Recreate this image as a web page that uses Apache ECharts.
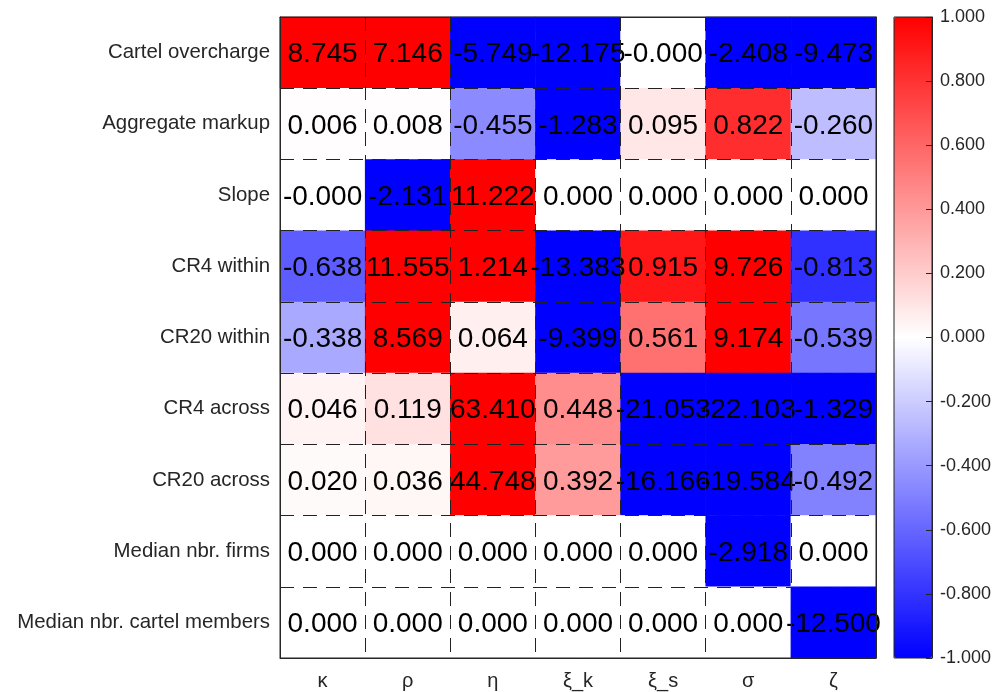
<!DOCTYPE html>
<html>
<head>
<meta charset="utf-8">
<script src="https://cdn.jsdelivr.net/npm/echarts@6/dist/echarts.min.js"></script>
<style>
html,body{margin:0;padding:0;background:#fff;}
#main{width:997px;height:692px;}
</style>
</head>
<body>
<div id="main"></div>
<script>
let params=["κ","ρ","η","ξ_k","ξ_s","σ","ζ"];
let moments=["Cartel overcharge","Aggregate markup","Slope","CR4 within","CR20 within","CR4 across","CR20 across","Median nbr. firms","Median nbr. cartel members"];
let cartelOvercharge=[8.745,7.146,-5.749,-12.175,-0,-2.408,-9.473];
let aggregateMarkup=[0.006,0.008,-0.455,-1.283,0.095,0.822,-0.260];
let slope=[-0,-2.131,11.222,0.000,0.000,0.000,0.000];
let cr4Within=[-0.638,11.555,1.214,-13.383,0.915,9.726,-0.813];
let cr20Within=[-0.338,8.569,0.064,-9.399,0.561,9.174,-0.539];
let cr4Across=[0.046,0.119,63.410,0.448,-21.053,-22.103,-1.329];
let cr20Across=[0.020,0.036,44.748,0.392,-16.166,-19.584,-0.492];
let medianFirms=[0.000,0.000,0.000,0.000,0.000,-2.918,0.000];
let medianMembers=[0.000,0.000,0.000,0.000,0.000,0.000,-12.500];
let colorTicks=[-1,1,0.2];

let rows=[cartelOvercharge,aggregateMarkup,slope,cr4Within,cr20Within,cr4Across,cr20Across,medianFirms,medianMembers];

function fmt(v){
    let neg=v<0||Object.is(v,-0);
    return (neg?"-":"")+Math.abs(v).toFixed(3);
}

let data=[];
rows.forEach(function(r,i){
    r.forEach(function(v,j){
        // colour is clamped to [-1,1], label keeps the real number
        data.push([j,i,Math.max(-1,Math.min(1,v)),v]);
    })
})

let axisCol="#262626";
let myChart=echarts.init(document.getElementById("main"));
let option={
    animation:false,
    textStyle:{fontFamily:"Liberation Sans, Arial, sans-serif"},
    grid:[
        {left:280,top:17,width:596,height:641,show:true,borderColor:axisCol,borderWidth:1,z:10,backgroundColor:"transparent"},
        {left:894,top:17,width:38,height:641,show:true,borderColor:axisCol,borderWidth:1,z:10,backgroundColor:"transparent"}
    ],
    xAxis:[
        {type:"category",data:params,gridIndex:0,position:"bottom",z:10,
            axisLine:{lineStyle:{color:axisCol}},
            axisTick:{inside:true,length:5,alignWithLabel:true,lineStyle:{color:axisCol}},
            axisLabel:{color:axisCol,fontSize:20,margin:13},
            splitLine:{show:true,lineStyle:{color:"#222",type:[14,9],width:1}}},
        {type:"category",data:params,gridIndex:0,position:"top",z:10,
            axisLine:{lineStyle:{color:axisCol}},
            axisTick:{inside:true,length:5,alignWithLabel:true,lineStyle:{color:axisCol}},
            axisLabel:{show:false},splitLine:{show:false}},
        {type:"value",gridIndex:1,show:false,min:0,max:1}
    ],
    yAxis:[
        {type:"category",data:moments,gridIndex:0,inverse:true,z:10,
            axisLine:{lineStyle:{color:axisCol}},
            axisTick:{inside:true,length:5,alignWithLabel:true,lineStyle:{color:axisCol}},
            axisLabel:{color:axisCol,fontSize:20.4,margin:10},
            splitLine:{show:true,lineStyle:{color:"#222",type:[14,9],width:1}}},
        {type:"category",data:moments,gridIndex:0,inverse:true,position:"right",z:10,
            axisLine:{lineStyle:{color:axisCol}},
            axisTick:{inside:true,length:5,alignWithLabel:true,lineStyle:{color:axisCol}},
            axisLabel:{show:false},splitLine:{show:false}},
        {type:"value",gridIndex:1,position:"right",min:colorTicks[0],max:colorTicks[1],interval:colorTicks[2],z:10,
            axisLine:{show:true,onZero:false,lineStyle:{color:axisCol}},
            axisTick:{inside:true,length:6,lineStyle:{color:axisCol}},
            axisLabel:{color:axisCol,fontSize:18,margin:8,formatter:function(v){return v.toFixed(3);}},
            splitLine:{show:false}}
    ],
    visualMap:{
        type:"continuous",
        min:-1,max:1,
        dimension:2,
        seriesIndex:0,
        calculable:false,
        orient:"vertical",
        left:894,top:17,
        padding:0,
        itemWidth:38,itemHeight:641,
        text:null,
        inRange:{color:["#0000ff","#ffffff","#ff0000"]}
    },
    series:[{
        type:"heatmap",
        xAxisIndex:0,yAxisIndex:0,
        data:data,
        label:{show:true,color:"#000",fontSize:28,offset:[0,2],
            formatter:function(p){return fmt(p.value[3]);}},
        itemStyle:{borderWidth:0}
    }]
};
myChart.setOption(option);
</script>
</body>
</html>
